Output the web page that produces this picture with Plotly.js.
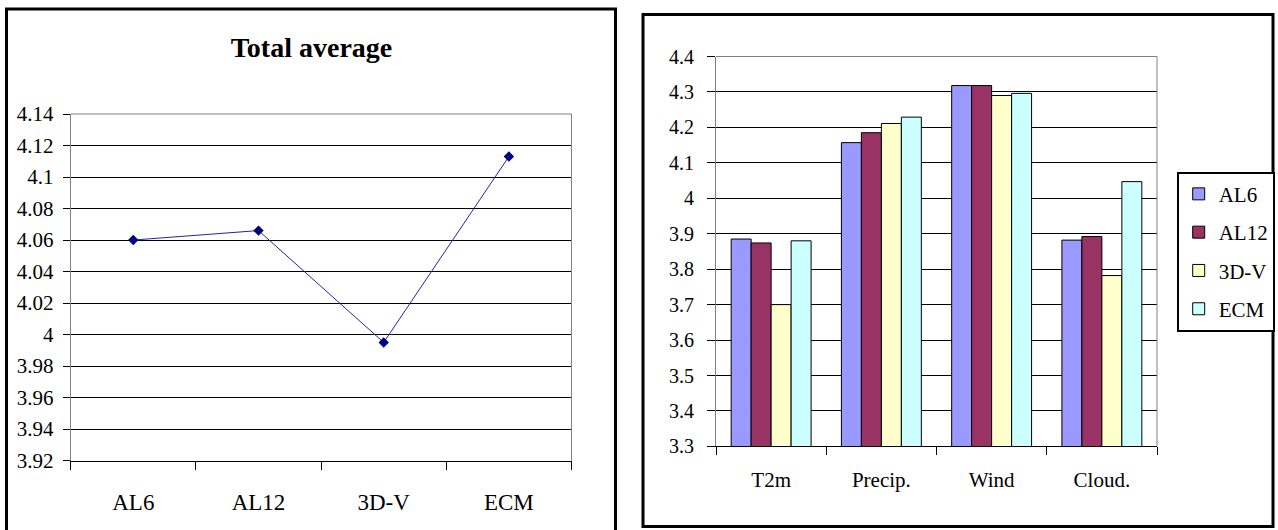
<!DOCTYPE html>
<html>
<head>
<meta charset="utf-8">
<script src="https://cdn.plot.ly/plotly-3.0.1.min.js"></script>
<style>html,body{margin:0;padding:0;background:#fff;}#chart{width:1278px;height:530px;}</style>
</head>
<body>
<div id="chart"></div>
<script>
// ---- Left chart: Total average ----
const modelNames = ['AL6', 'AL12', '3D-V', 'ECM'];
const totalAverage = [4.060, 4.066, 3.995, 4.113];
const leftTickVals = [3.92, 3.94, 3.96, 3.98, 4.00, 4.02, 4.04, 4.06, 4.08, 4.10, 4.12, 4.14];
const leftTickText = ['3.92', '3.94', '3.96', '3.98', '4', '4.02', '4.04', '4.06', '4.08', '4.1', '4.12', '4.14'];

// ---- Right chart: per-variable scores ----
const variables = ['T2m', 'Precip.', 'Wind', 'Cloud.'];
const al6 = [3.885, 4.157, 4.318, 3.882];
const al12 = [3.874, 4.185, 4.318, 3.892];
const v3d = [3.700, 4.211, 4.290, 3.782];
const ecm = [3.880, 4.229, 4.296, 4.047];
const rightTickVals = [3.3, 3.4, 3.5, 3.6, 3.7, 3.8, 3.9, 4.0, 4.1, 4.2, 4.3, 4.4];
const rightTickText = ['3.3', '3.4', '3.5', '3.6', '3.7', '3.8', '3.9', '4', '4.1', '4.2', '4.3', '4.4'];

const seriesNames = ['AL6', 'AL12', '3D-V', 'ECM'];
const seriesValues = [al6, al12, v3d, ecm];
const seriesColors = ['#9999FF', '#993366', '#FFFFCC', '#CCFFFF'];

const W = 1278, H = 530;
const px = v => v / W;
const py = v => 1 - v / H;

const traces = [{
  type: 'scatter', mode: 'lines+markers',
  x: modelNames, y: totalAverage,
  xaxis: 'x', yaxis: 'y',
  line: {color: '#2424a8', width: 1},
  marker: {symbol: 'diamond', size: 8, color: '#000080'},
  showlegend: false, hoverinfo: 'x+y'
}];
seriesNames.forEach((n, i) => {
  traces.push({
    type: 'bar', name: n, x: variables, y: seriesValues[i],
    xaxis: 'x2', yaxis: 'y2', legendgroup: n,
    marker: {color: seriesColors[i], line: {color: '#000000', width: 1}}
  });
});

const serif = '"Liberation Serif", "Times New Roman", serif';
const layout = {
  width: W, height: H,
  margin: {l: 0, r: 0, t: 0, b: 0},
  paper_bgcolor: '#ffffff', plot_bgcolor: '#ffffff',
  font: {family: serif, color: '#000000'},
  title: {text: '<b>Total average</b>', x: px(311.5), y: py(47), xref: 'paper', yref: 'paper',
          xanchor: 'center', yanchor: 'middle', font: {family: serif, size: 28, color: '#000'}},
  showlegend: true,
  barmode: 'group', bargap: 0.275, bargroupgap: 0,
  xaxis: {
    domain: [px(70.7), px(571.5)], anchor: 'y', type: 'category',
    range: [-0.5, 3.5], showgrid: false, showline: true, linecolor: '#000', linewidth: 1,
    ticks: 'outside', ticklen: 8, tickcolor: '#000', tickson: 'boundaries',
    tickfont: {family: serif, size: 23}, ticklabelstandoff: 21, zeroline: false, fixedrange: true
  },
  yaxis: {
    domain: [py(460.6), py(114)], anchor: 'x',
    range: [3.92, 4.14], tickmode: 'array', tickvals: leftTickVals, ticktext: leftTickText,
    showgrid: true, gridcolor: '#000', gridwidth: 1,
    showline: true, linecolor: '#808080', linewidth: 1,
    ticks: 'outside', ticklen: 7, tickcolor: '#000',
    tickfont: {family: serif, size: 21}, ticklabelstandoff: 5, zeroline: false, fixedrange: true
  },
  xaxis2: {
    domain: [px(716), px(1157)], anchor: 'y2', type: 'category',
    range: [-0.5, 3.5], showgrid: false, showline: true, linecolor: '#000', linewidth: 1,
    ticks: 'outside', ticklen: 8, tickcolor: '#000', tickson: 'boundaries',
    tickfont: {family: serif, size: 21}, ticklabelstandoff: 14, zeroline: false, fixedrange: true
  },
  yaxis2: {
    domain: [py(446.4), py(56.5)], anchor: 'x2',
    range: [3.3, 4.4], tickmode: 'array', tickvals: rightTickVals, ticktext: rightTickText,
    showgrid: true, gridcolor: '#000', gridwidth: 1,
    showline: true, linecolor: '#808080', linewidth: 1,
    ticks: 'outside', ticklen: 8, tickcolor: '#000',
    tickfont: {family: serif, size: 20}, ticklabelstandoff: 9, zeroline: false, fixedrange: true
  },
  legend: {
    x: px(1176.7), y: py(171.7), xanchor: 'left', yanchor: 'top',
    xref: 'paper', yref: 'paper',
    bordercolor: '#000', borderwidth: 2, bgcolor: '#fff',
    font: {family: serif, size: 21, color: '#000'},
    tracegroupgap: 8, traceorder: 'grouped'
  },
  shapes: [
    // chart frames
    {type: 'rect', xref: 'paper', yref: 'paper', x0: px(6.5), x1: px(615.5), y0: py(540), y1: py(9),
     line: {color: '#000', width: 3}, fillcolor: 'rgba(0,0,0,0)', layer: 'above'},
    {type: 'rect', xref: 'paper', yref: 'paper', x0: px(643), x1: px(1273), y0: py(526.5), y1: py(14.5),
     line: {color: '#000', width: 3}, fillcolor: 'rgba(0,0,0,0)', layer: 'above'},
    // gray plot-area borders (top and right)
    {type: 'line', xref: 'x domain', yref: 'y domain', x0: 0, x1: 1, y0: 1, y1: 1, line: {color: '#808080', width: 1}, layer: 'above'},
    {type: 'line', xref: 'x domain', yref: 'y domain', x0: 1, x1: 1, y0: 0, y1: 1, line: {color: '#808080', width: 1}, layer: 'above'},
    {type: 'line', xref: 'x2 domain', yref: 'y2 domain', x0: 0, x1: 1, y0: 1, y1: 1, line: {color: '#808080', width: 1}, layer: 'above'},
    {type: 'line', xref: 'x2 domain', yref: 'y2 domain', x0: 1, x1: 1, y0: 0, y1: 1, line: {color: '#808080', width: 1}, layer: 'above'}
  ]
};

Plotly.newPlot('chart', traces, layout, {displayModeBar: false, staticPlot: true});
</script>
</body>
</html>
